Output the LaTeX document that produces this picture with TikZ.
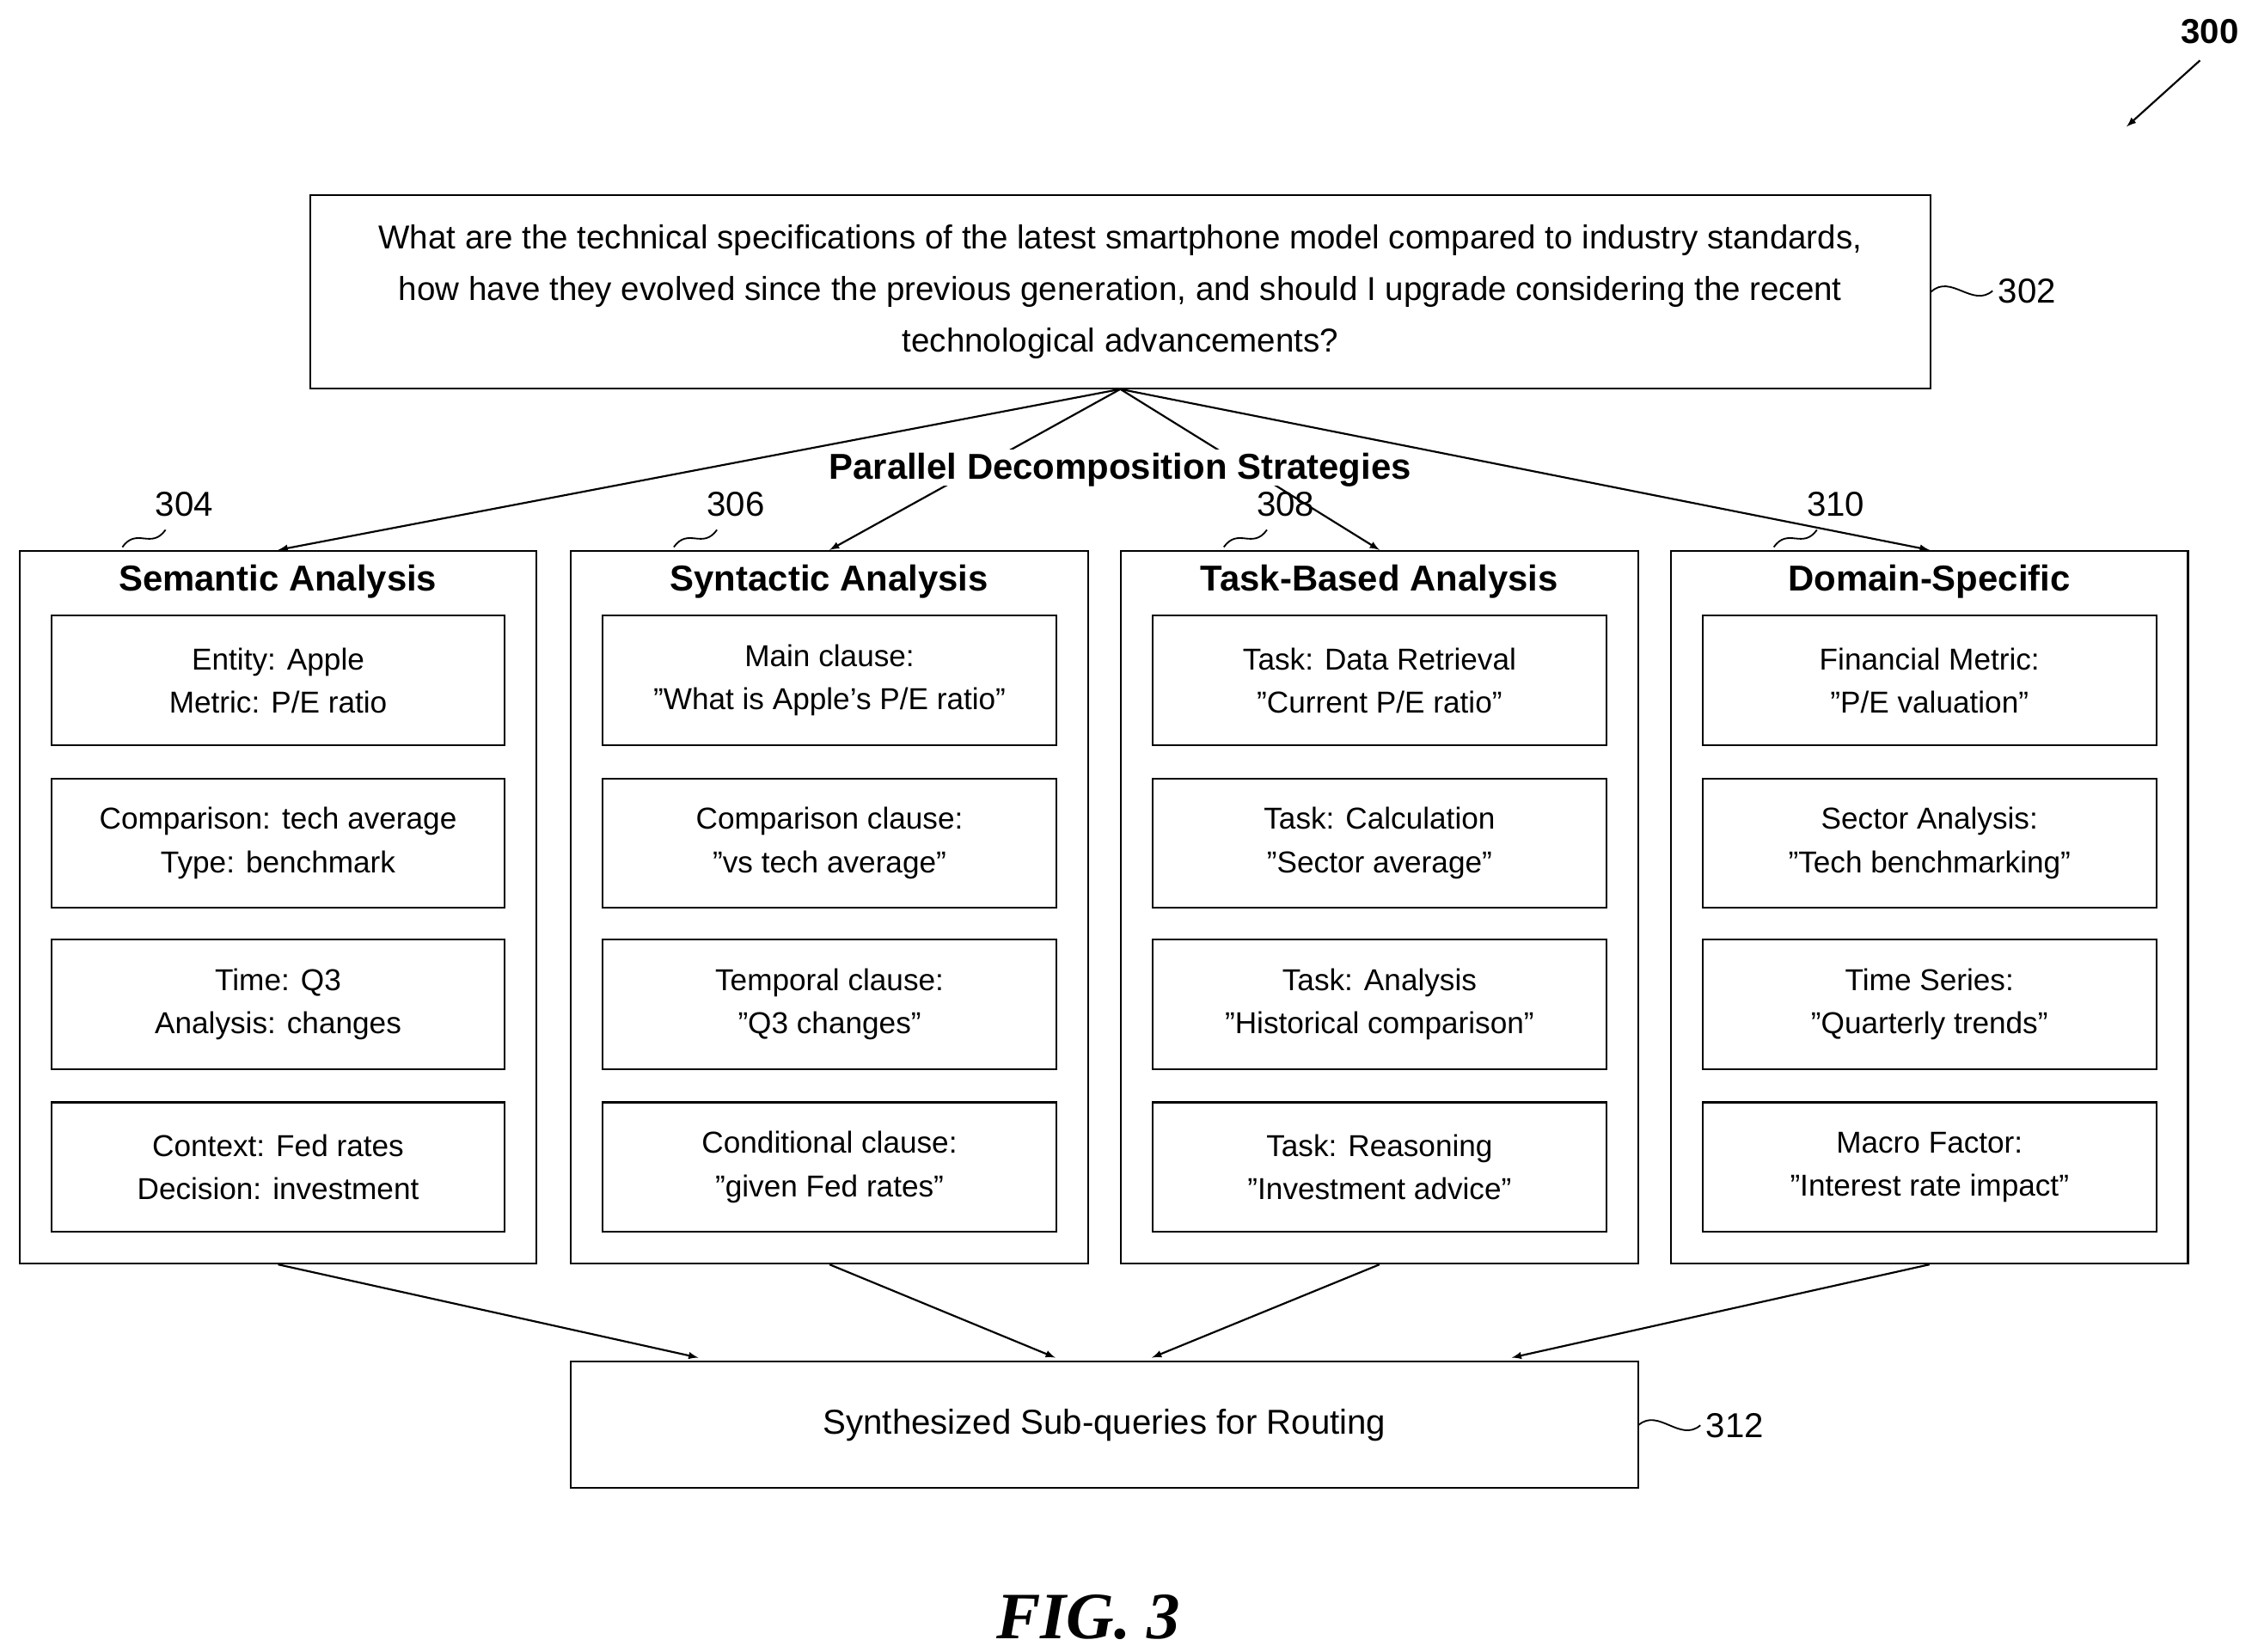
\documentclass[tikz,border=0pt]{standalone}
\usepackage{fontspec}
\setmainfont{Liberation Sans}
\newfontfamily\figfont{Liberation Serif}
\begin{document}
\begin{tikzpicture}[x=1pt,y=-1pt,line width=1.3pt,
  box/.style={draw,rectangle,inner sep=0pt,align=center},
  col/.style={box,minimum width=359pt,minimum height=495pt,anchor=north west},
  inner/.style={box,minimum width=315pt,minimum height=90pt,anchor=north west,font=\fontsize{21}{30}\selectfont},
  ttl/.style={font=\bfseries\fontsize{25}{30}\selectfont},
  lbl/.style={font=\fontsize{24}{28}\selectfont},
  arr/.style={->,>=latex,line width=1.3pt},
  squig/.style={line width=1.1pt}]
\useasboundingbox (0,0) rectangle (1560,1147);
\node[box,minimum width=1125pt,minimum height=134pt,anchor=north west,font=\fontsize{23}{36}\selectfont] (q) at (215,135) {\resizebox{!}{!}{}What are the technical specifications of the latest smartphone model compared to industry standards,\\how have they evolved since the previous generation, and should I upgrade considering the recent\\technological advancements?};
\node[lbl] (n302) at (1408,202) {302};
\draw[squig] (q.east) .. controls (1355,190) and (1370,214) .. (n302.west);
\node[lbl,font=\bfseries\fontsize{24}{28}\selectfont] (n300) at (1535,22) {300};
\coordinate (a300) at (1528,42);
\draw[arr] (a300) -- (1477,88);

\foreach \i/\x/\t/\r in {1/13/Semantic Analysis/304,2/396/Syntactic Analysis/306,3/778/Task-Based Analysis/308,4/1160/Domain-Specific/310}{
  \node[col] (c\i) at (\x,382) {};
  \node[ttl] (t\i) at (\x+180,404) {\t};
  \node[lbl] (r\i) at (\x+115,350) {\r};
  \draw[squig] (\x+72,380) .. controls (\x+82,366) and (\x+92,382) .. (\x+102,368);
}
\foreach \i/\x in {1/13,2/396,3/778,4/1160}{
  \coordinate (b\i) at (\x+22,0);
}
\def\ib#1#2#3#4{\node[inner] (#1) at (#2,#3) {#4};}
\ib{s1}{35}{427}{Entity: Apple\\Metric: P/E ratio}
\ib{s2}{35}{540}{Comparison: tech average\\Type: benchmark}
\ib{s3}{35}{652}{Time: Q3\\Analysis: changes}
\ib{s4}{35}{765}{Context: Fed rates\\Decision: investment}
\ib{y1}{418}{427}{Main clause:\\"What is Apple's P/E ratio"}
\ib{y2}{418}{540}{Comparison clause:\\"vs tech average"}
\ib{y3}{418}{652}{Temporal clause:\\"Q3 changes"}
\ib{y4}{418}{765}{Conditional clause:\\"given Fed rates"}
\ib{k1}{800}{427}{Task: Data Retrieval\\"Current P/E ratio"}
\ib{k2}{800}{540}{Task: Calculation\\"Sector average"}
\ib{k3}{800}{652}{Task: Analysis\\"Historical comparison"}
\ib{k4}{800}{765}{Task: Reasoning\\"Investment advice"}
\ib{d1}{1182}{427}{Financial Metric:\\"P/E valuation"}
\ib{d2}{1182}{540}{Sector Analysis:\\"Tech benchmarking"}
\ib{d3}{1182}{652}{Time Series:\\"Quarterly trends"}
\ib{d4}{1182}{765}{Macro Factor:\\"Interest rate impact"}

\draw[arr] (q.south) -- (c1.north);
\draw[arr] (q.south) -- (c4.north);
\draw[arr] (q.south) -- (c2.north);
\draw[arr] (q.south) -- (c3.north);
\node[ttl,fill=white,inner sep=2pt,text depth=3pt] (pds) at (778,325) {Parallel Decomposition Strategies};

\node[box,minimum width=741pt,minimum height=88pt,anchor=north west,font=\fontsize{24}{28}\selectfont] (syn) at (396,945) {Synthesized Sub-queries for Routing};
\node[lbl] (n312) at (1205,990) {312};
\draw[squig] (syn.east) .. controls (1152,978) and (1167,1002) .. (n312.west);
\draw[arr] (c1.south) -- (485,943);
\draw[arr] (c2.south) -- (733,943);
\draw[arr] (c3.south) -- (800,943);
\draw[arr] (c4.south) -- (1050,943);
\node[font=\figfont\bfseries\itshape\fontsize{46}{50}\selectfont] (fig) at (756,1123) {FIG. 3};
\end{tikzpicture}
\end{document}
